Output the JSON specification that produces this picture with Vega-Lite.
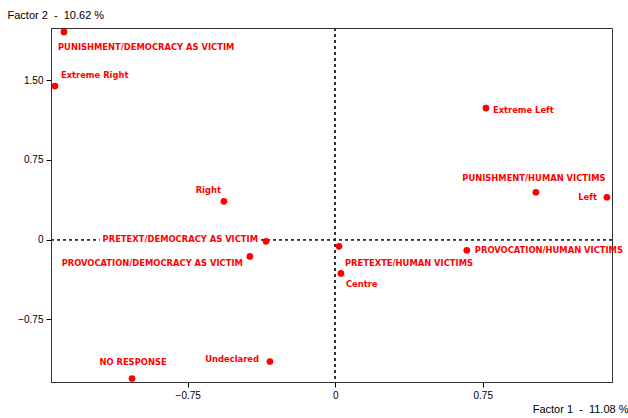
{
  "$schema": "https://vega.github.io/schema/vega-lite/v6.json",
  "width": 561,
  "height": 354,
  "autosize": {"type": "none"},
  "padding": {"left": 51, "top": 28, "right": 16, "bottom": 36},
  "background": "white",
  "config": {
    "view": {"stroke": "#333333", "strokeWidth": 1},
    "axis": {"grid": false, "labelFont": "Liberation Sans", "labelFontSize": 10, "labelColor": "#000000", "titleFont": "Liberation Sans", "titleFontSize": 11, "titleFontWeight": "normal", "titleColor": "#000000", "domainColor": "#333333", "tickColor": "#000000", "tickSize": 5},
    "text": {"font": "DejaVu Sans Condensed, Liberation Sans, sans-serif", "fontWeight": "bold", "fontSize": 9.3, "color": "#ff0000", "baseline": "middle"}
  },
  "data": {
    "values": [
      {"name": "PUNISHMENT/DEMOCRACY AS VICTIM", "f1": -1.379, "f2": 1.956},
      {"name": "Extreme Right", "f1": -1.425, "f2": 1.446},
      {"name": "Extreme Left", "f1": 0.766, "f2": 1.239},
      {"name": "Right", "f1": -0.566, "f2": 0.361},
      {"name": "PUNISHMENT/HUMAN VICTIMS", "f1": 1.02, "f2": 0.446},
      {"name": "Left", "f1": 1.381, "f2": 0.399},
      {"name": "PRETEXT/DEMOCRACY AS VICTIM", "f1": -0.352, "f2": -0.016},
      {"name": "PROVOCATION/DEMOCRACY AS VICTIM", "f1": -0.434, "f2": -0.158},
      {"name": "PRETEXTE/HUMAN VICTIMS", "f1": 0.019, "f2": -0.063},
      {"name": "PROVOCATION/HUMAN VICTIMS", "f1": 0.669, "f2": -0.1},
      {"name": "Centre", "f1": 0.029, "f2": -0.318},
      {"name": "Undeclared", "f1": -0.332, "f2": -1.148},
      {"name": "NO RESPONSE", "f1": -1.033, "f2": -1.308}
    ]
  },
  "encoding": {
    "x": {"field": "f1", "type": "quantitative", "scale": {"domain": [-1.445, 1.407], "nice": false, "zero": false},
      "axis": {"values": [-0.75, 0, 0.75], "labelExpr": "datum.value == 0 ? '0' : format(datum.value, '.2f')", "title": "Factor 1 \u00a0-\u00a0 11.08 %", "titleAnchor": "end", "titleAlign": "right", "titleX": 577, "titleY": 27, "titleBaseline": "middle", "labelPadding": 3}},
    "y": {"field": "f2", "type": "quantitative", "scale": {"domain": [-1.341, 1.993], "nice": false, "zero": false},
      "axis": {"values": [-0.75, 0, 0.75, 1.5], "labelExpr": "datum.value == 0 ? '0' : format(datum.value, '.2f')", "title": "Factor 2 \u00a0-\u00a0 10.62 %", "titleAngle": 0, "titleAlign": "left", "titleX": -44, "titleY": -13, "titleBaseline": "middle", "labelPadding": 3}}
  },
  "layer": [
    {"mark": {"type": "rule", "strokeDash": [3, 3], "color": "#333333", "strokeWidth": 1}, "encoding": {"x": {"datum": 0}, "y": null}},
    {"mark": {"type": "rule", "strokeDash": [3, 3], "color": "#333333", "strokeWidth": 1}, "encoding": {"y": {"datum": 0}, "x": null}},
    {"transform": [{"filter": "datum.name == 'PRETEXT/DEMOCRACY AS VICTIM'"}], "mark": {"type": "text", "align": "right", "dx": -8, "dy": -2, "color": "white", "stroke": "white", "strokeWidth": 7}, "encoding": {"text": {"field": "name"}}},
    {"mark": {"type": "point", "shape": "circle", "filled": true, "color": "#ff0000", "size": 45, "opacity": 1}},
    {"transform": [{"filter": "datum.name == 'PUNISHMENT/DEMOCRACY AS VICTIM'"}], "mark": {"type": "text", "align": "left", "dx": -6, "dy": 15}, "encoding": {"text": {"field": "name"}}},
    {"transform": [{"filter": "datum.name == 'Extreme Right'"}], "mark": {"type": "text", "align": "left", "dx": 6, "dy": -11}, "encoding": {"text": {"field": "name"}}},
    {"transform": [{"filter": "datum.name == 'Extreme Left'"}], "mark": {"type": "text", "align": "left", "dx": 7, "dy": 2}, "encoding": {"text": {"field": "name"}}},
    {"transform": [{"filter": "datum.name == 'Right'"}], "mark": {"type": "text", "align": "right", "dx": -3, "dy": -11}, "encoding": {"text": {"field": "name"}}},
    {"transform": [{"filter": "datum.name == 'PUNISHMENT/HUMAN VICTIMS'"}], "mark": {"type": "text", "align": "center", "dx": -2, "dy": -14}, "encoding": {"text": {"field": "name"}}},
    {"transform": [{"filter": "datum.name == 'Left'"}], "mark": {"type": "text", "align": "right", "dx": -10, "dy": 0}, "encoding": {"text": {"field": "name"}}},
    {"transform": [{"filter": "datum.name == 'PRETEXT/DEMOCRACY AS VICTIM'"}], "mark": {"type": "text", "align": "right", "dx": -8, "dy": -2}, "encoding": {"text": {"field": "name"}}},
    {"transform": [{"filter": "datum.name == 'PROVOCATION/DEMOCRACY AS VICTIM'"}], "mark": {"type": "text", "align": "right", "dx": -7, "dy": 7}, "encoding": {"text": {"field": "name"}}},
    {"transform": [{"filter": "datum.name == 'PRETEXTE/HUMAN VICTIMS'"}], "mark": {"type": "text", "align": "left", "dx": 6, "dy": 17}, "encoding": {"text": {"field": "name"}}},
    {"transform": [{"filter": "datum.name == 'PROVOCATION/HUMAN VICTIMS'"}], "mark": {"type": "text", "align": "left", "dx": 8, "dy": 0}, "encoding": {"text": {"field": "name"}}},
    {"transform": [{"filter": "datum.name == 'Centre'"}], "mark": {"type": "text", "align": "left", "dx": 5, "dy": 11}, "encoding": {"text": {"field": "name"}}},
    {"transform": [{"filter": "datum.name == 'Undeclared'"}], "mark": {"type": "text", "align": "right", "dx": -11, "dy": -3}, "encoding": {"text": {"field": "name"}}},
    {"transform": [{"filter": "datum.name == 'NO RESPONSE'"}], "mark": {"type": "text", "align": "center", "dx": 1, "dy": -16}, "encoding": {"text": {"field": "name"}}}
  ]
}
